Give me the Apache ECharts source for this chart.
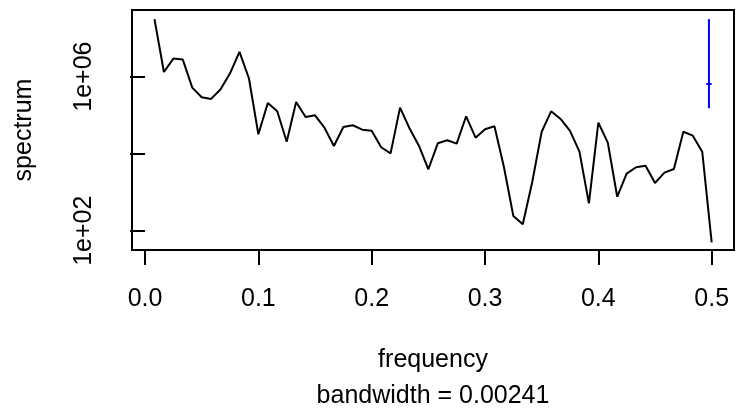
<!DOCTYPE html>
<html>
<head>
<meta charset="utf-8">
<script src="https://cdn.jsdelivr.net/npm/echarts@6/dist/echarts.min.js"></script>
<style>html,body{margin:0;padding:0;background:#fff}#c{width:749px;height:415px}</style>
</head>
<body>
<div id="c"></div>
<script>
// Frequencies (cycles per observation), k/120 for k = 1..60
const frequency = [0.00833,0.01667,0.025,0.03333,0.04167,0.05,0.05833,0.06667,0.075,0.08333,
  0.09167,0.1,0.10833,0.11667,0.125,0.13333,0.14167,0.15,0.15833,0.16667,
  0.175,0.18333,0.19167,0.2,0.20833,0.21667,0.225,0.23333,0.24167,0.25,
  0.25833,0.26667,0.275,0.28333,0.29167,0.3,0.30833,0.31667,0.325,0.33333,
  0.34167,0.35,0.35833,0.36667,0.375,0.38333,0.39167,0.4,0.40833,0.41667,
  0.425,0.43333,0.44167,0.45,0.45833,0.46667,0.475,0.48333,0.49167,0.5];
// Spectrum estimates
const spectrum = [3.10e7,1.32e6,2.94e6,2.77e6,5.18e5,2.92e5,2.64e5,4.71e5,1.22e6,4.39e6,
  9.08e5,3.19e4,2.07e5,1.26e5,2.05e4,2.20e5,8.97e4,9.93e4,4.73e4,1.58e4,
  4.94e4,5.47e4,4.20e4,3.95e4,1.47e4,1.02e4,1.57e5,4.57e4,1.61e4,3.94e3,
  1.86e4,2.23e4,1.82e4,9.35e4,2.61e4,4.31e4,5.15e4,4.52e3,241,147,
  1.84e3,3.72e4,1.26e5,7.96e4,3.89e4,1.13e4,515,6.38e4,1.93e4,764,
  3.03e3,4.44e3,4.88e3,1.73e3,3.21e3,4.01e3,3.72e4,2.94e4,1.13e4,50];
// Confidence-interval bar
const bandwidth = 0.00241;
const ciX = 0.4976;
const ciLow = 1.51e5, ciMid = 6.46e5, ciHigh = 3.10e7;
// Tick values and labelled ticks
const xTicks = [0, 0.1, 0.2, 0.3, 0.4, 0.5];
const yTicks = [1e2, 1e4, 1e6];
const yTickLabels = [1e2, 1e6];

const font = 'Liberation Sans, Arial, Helvetica, sans-serif';
const chart = echarts.init(document.getElementById('c'), null, {renderer: 'canvas'});
const specData = frequency.map((f, i) => [f, spectrum[i]]);

chart.setOption({
  animation: false,
  backgroundColor: '#ffffff',
  grid: {left: 132, right: 15, top: 10, bottom: 165, show: true, outerBoundsMode: 'none',
         containLabel: false,
         borderColor: '#000', borderWidth: 2, backgroundColor: 'transparent'},
  xAxis: {
    type: 'value', min: -0.0115, max: 0.5197,
    axisLine: {show: false},
    splitLine: {show: false},
    axisTick: {show: true, length: 15, inside: false, customValues: xTicks,
               lineStyle: {color: '#000', width: 2}},
    axisLabel: {customValues: xTicks, margin: 37, color: '#000', fontSize: 25,
                fontFamily: font, formatter: v => v.toFixed(1)},
    name: 'frequency\nbandwidth = ' + bandwidth,
    nameLocation: 'middle', nameGap: 92,
    nameTextStyle: {color: '#000', fontSize: 25, fontFamily: font, lineHeight: 36,
                    verticalAlign: 'top'}
  },
  yAxis: {
    type: 'log', min: 31.6, max: 5.37e7,
    axisLine: {show: false},
    splitLine: {show: false},
    axisTick: {show: true, length: 15, customValues: yTicks,
               lineStyle: {color: '#000', width: 2}},
    axisLabel: {customValues: yTickLabels, rotate: 90, margin: 35, color: '#000', fontSize: 25,
                fontFamily: font,
                formatter: v => {
                  const e = Math.round(Math.log10(v));
                  return '1e+' + (e < 10 ? '0' : '') + e;
                }},
    name: 'spectrum', nameLocation: 'middle', nameGap: 95, nameRotate: 90,
    nameTextStyle: {color: '#000', fontSize: 25, fontFamily: font}
  },
  series: [
    {type: 'line', data: specData, showSymbol: false, symbol: 'none',
     lineStyle: {color: '#000', width: 2}, clip: true},
    {type: 'line', data: [[ciX, ciLow], [ciX, ciHigh]], showSymbol: false, symbol: 'none',
     lineStyle: {color: '#0000ff', width: 2}},
    {type: 'line', data: [[ciX - bandwidth, ciMid], [ciX + bandwidth, ciMid]], showSymbol: false,
     symbol: 'none', lineStyle: {color: '#0000ff', width: 2}}
  ]
});
</script>
</body>
</html>
